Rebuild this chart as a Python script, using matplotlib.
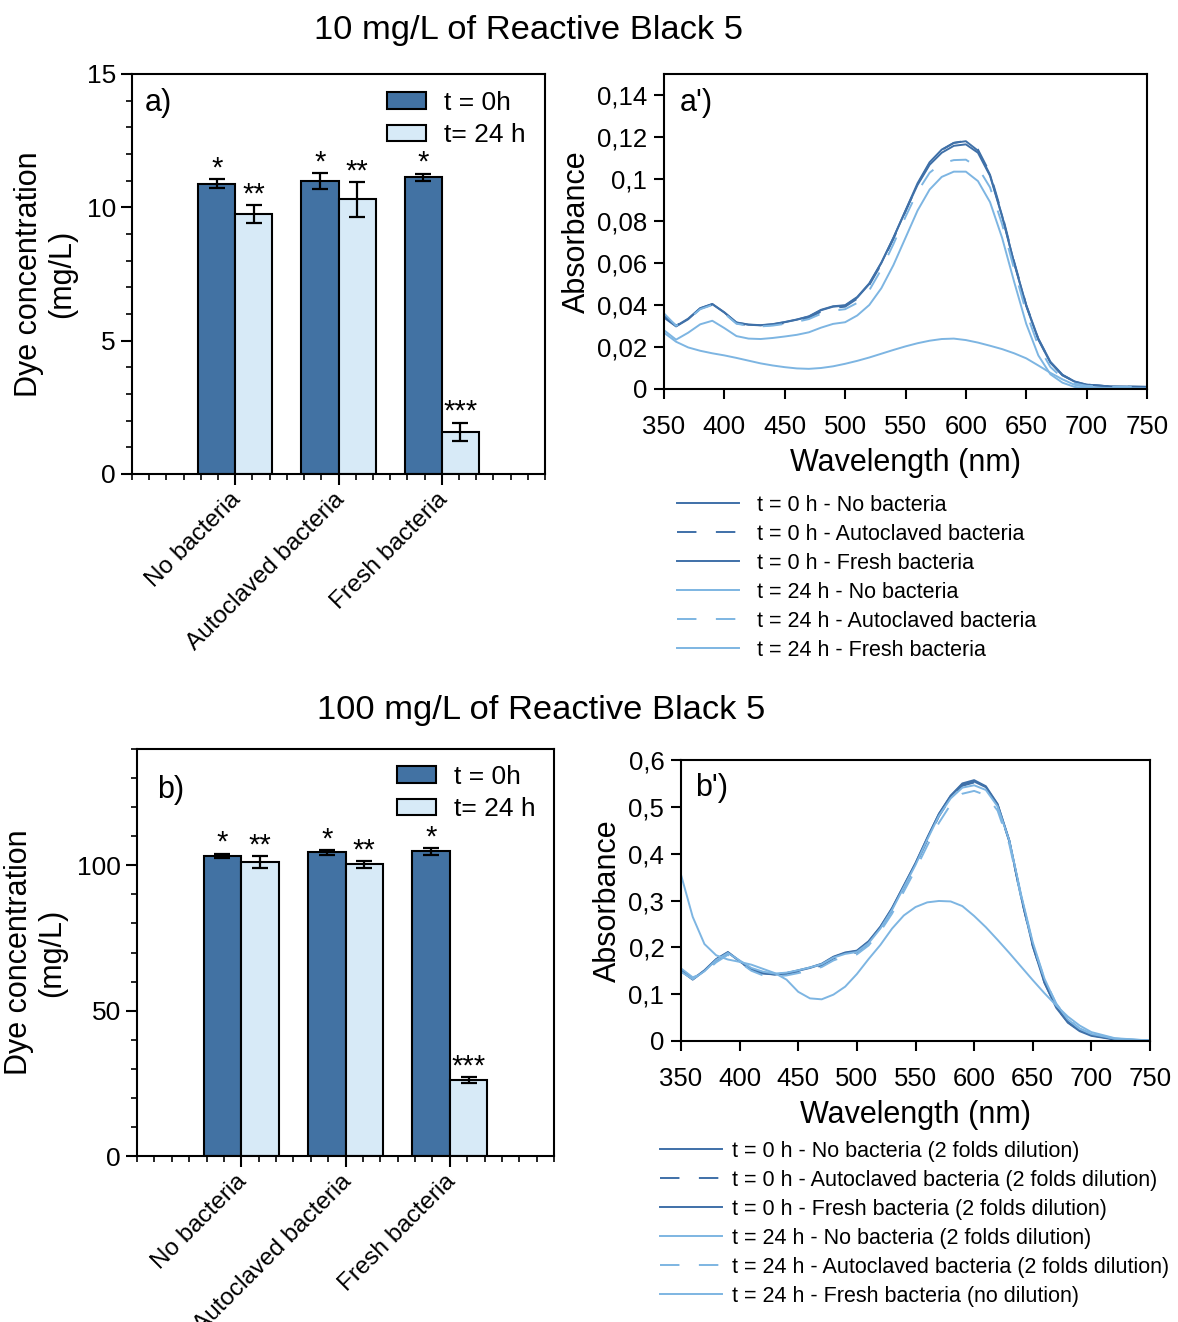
import matplotlib
matplotlib.use('Agg')
import numpy as np
import matplotlib.pyplot as plt
from matplotlib.ticker import MultipleLocator, FuncFormatter
from matplotlib.transforms import ScaledTranslation

plt.rcParams['font.family'] = ['Liberation Sans', 'DejaVu Sans']

# bar chart data (dye concentration, mg/L)
categories = ['No bacteria', 'Autoclaved bacteria', 'Fresh bacteria']
bar_labels = ['t = 0h', 't= 24 h']
c10_t0 = [10.89, 10.97, 11.13]
c10_t0_err = [0.16, 0.30, 0.13]
c10_t24 = [9.76, 10.30, 1.59]
c10_t24_err = [0.33, 0.65, 0.34]
c100_t0 = [103.3, 104.4, 104.8]
c100_t0_err = [0.75, 0.75, 1.15]
c100_t24 = [101.1, 100.3, 26.2]
c100_t24_err = [2.1, 1.1, 1.0]
stars_t0 = ['*', '*', '*']
stars_t24 = ['**', '**', '***']

# spectra (absorbance)
wl = [350, 360, 370, 380, 390, 400, 410, 420, 430, 440, 450, 460, 470, 480, 490,
      500, 510, 520, 530, 540, 550, 560, 570, 580, 590, 600, 610, 620, 630, 640,
      650, 660, 670, 680, 690, 700, 720, 750]

a_t0_none = [.0345, .0300, .0335, .0385, .0405, .0365, .0316, .0306, .0303, .0308, .0318, .0330, .0345, .0375, .0392,
             .0397, .0435, .0500, .0600, .0720, .0850, .0980, .1080, .1140, .1172, .1180, .1135, .1020, .0825, .0600,
             .0395, .0235, .0125, .0065, .0035, .0020, .0012, .0010]
a_t0_auto = [.0350, .0302, .0333, .0382, .0402, .0362, .0313, .0303, .0300, .0305, .0314, .0326, .0340, .0368, .0386,
             .0392, .0430, .0495, .0595, .0715, .0845, .0975, .1075, .1138, .1172, .1182, .1140, .1028, .0832, .0606,
             .0400, .0238, .0127, .0066, .0036, .0021, .0012, .0010]
a_t0_fresh = [.0340, .0298, .0332, .0384, .0404, .0364, .0317, .0307, .0304, .0309, .0319, .0331, .0346, .0377, .0394,
              .0399, .0438, .0503, .0602, .0720, .0848, .0972, .1068, .1125, .1158, .1165, .1125, .1015, .0822, .0600,
              .0398, .0240, .0130, .0068, .0036, .0021, .0012, .0010]
a_t24_none = [.0280, .0235, .0268, .0308, .0325, .0290, .0252, .0240, .0238, .0243, .0250, .0258, .0270, .0292, .0310,
              .0318, .0350, .0400, .0480, .0590, .0720, .0850, .0950, .1010, .1035, .1035, .0990, .0890, .0720, .0510,
              .0310, .0160, .0070, .0030, .0010, .0003, .0000, .0000]
a_t24_auto = [.0360, .0301, .0331, .0380, .0400, .0360, .0311, .0301, .0298, .0302, .0310, .0320, .0333, .0358, .0373,
              .0380, .0410, .0470, .0570, .0690, .0820, .0940, .1030, .1075, .1090, .1092, .1055, .0960, .0785, .0570,
              .0365, .0205, .0105, .0052, .0026, .0015, .0010, .0010]
a_t24_fresh = [.0268, .0225, .0198, .0182, .0170, .0160, .0148, .0135, .0122, .0112, .0104, .0098, .0096, .0100, .0108,
               .0120, .0134, .0150, .0168, .0186, .0203, .0218, .0230, .0238, .0240, .0233, .0221, .0206, .0190, .0170,
               .0146, .0112, .0077, .0046, .0020, .0009, .0004, .0003]

b_t0_none = [.150, .131, .150, .174, .189, .170, .153, .145, .142, .145, .150, .156, .164, .179, .188,
             .192, .212, .243, .283, .331, .379, .433, .485, .524, .550, .557, .544, .506, .428, .308,
             .203, .124, .071, .039, .021, .011, .003, .000]
b_t0_auto = [.152, .133, .148, .172, .187, .169, .152, .143, .141, .143, .148, .154, .161, .176, .185,
             .189, .209, .240, .279, .327, .375, .428, .480, .519, .545, .552, .540, .503, .426, .307,
             .203, .125, .072, .040, .022, .012, .004, .000]
b_t0_fresh = [.149, .132, .151, .175, .190, .171, .152, .144, .142, .145, .151, .157, .165, .180, .189,
              .193, .213, .244, .284, .332, .380, .434, .485, .523, .548, .554, .542, .505, .428, .310,
              .206, .127, .074, .041, .023, .013, .004, .001]
b_t24_none = [.148, .132, .149, .173, .188, .172, .156, .148, .144, .146, .151, .157, .164, .178, .186,
              .190, .209, .240, .280, .328, .376, .430, .481, .518, .541, .546, .536, .501, .428, .313,
              .211, .133, .079, .046, .026, .015, .005, .001]
b_t24_auto = [.155, .136, .146, .168, .184, .168, .150, .140, .138, .140, .145, .151, .158, .172, .181,
              .185, .204, .234, .272, .319, .366, .417, .466, .505, .528, .534, .525, .492, .420, .308,
              .208, .132, .080, .047, .027, .016, .005, .001]
b_t24_fresh = [.355, .265, .207, .183, .174, .169, .163, .154, .145, .131, .105, .091, .089, .099, .116,
               .143, .175, .205, .240, .268, .286, .296, .299, .298, .288, .267, .243, .216, .188, .159,
               .130, .102, .076, .052, .033, .019, .006, .001]

labels_a = ['t = 0 h - No bacteria', 't = 0 h - Autoclaved bacteria', 't = 0 h - Fresh bacteria',
            't = 24 h - No bacteria', 't = 24 h - Autoclaved bacteria', 't = 24 h - Fresh bacteria']
labels_b = ['t = 0 h - No bacteria (2 folds dilution)', 't = 0 h - Autoclaved bacteria (2 folds dilution)',
            't = 0 h - Fresh bacteria (2 folds dilution)', 't = 24 h - No bacteria (2 folds dilution)',
            't = 24 h - Autoclaved bacteria (2 folds dilution)', 't = 24 h - Fresh bacteria (no dilution)']

dark_bar = '#4272a3'
light_bar = '#d7eaf7'
dark_line = '#3f70a8'
light_line = '#7db5e2'
dash = (0, (10, 10))

W, H = 1178, 1322
fig = plt.figure(figsize=(W / 100, H / 100), dpi=100)


def box(l, t, r, b):
    # pixel box -> figure fraction
    return [l / W, 1 - b / H, (r - l) / W, (b - t) / H]


def bar_panel(ax, t0, t0e, t24, t24e, ymax, major, minor, tag, leg_xy, tag_xy):
    x = np.arange(1, 4)
    w = 0.36
    ekw = dict(elinewidth=1.6, capthick=1.6, ecolor='black')
    ax.bar(x - w / 2, t0, w, yerr=t0e, color=dark_bar, edgecolor='black', linewidth=1.5,
           capsize=6, error_kw=ekw, label=bar_labels[0])
    ax.bar(x + w / 2, t24, w, yerr=t24e, color=light_bar, edgecolor='black', linewidth=1.5,
           capsize=6, error_kw=ekw, label=bar_labels[1])
    for xs, vals, errs, st in [(x - w / 2, t0, t0e, stars_t0), (x + w / 2, t24, t24e, stars_t24)]:
        for xi, v, e, s in zip(xs, vals, errs, st):
            ax.annotate(s, (xi, v + e), xytext=(0, 2), textcoords='offset points',
                        ha='center', va='baseline', fontsize=21)
    ax.set_xlim(0, 4)
    ax.set_ylim(0, ymax)
    ax.xaxis.set_minor_locator(MultipleLocator(1 / 6))
    ax.yaxis.set_major_locator(MultipleLocator(major))
    ax.yaxis.set_minor_locator(MultipleLocator(minor))
    ax.tick_params(which='major', direction='out', length=8, width=1.5)
    ax.tick_params(which='minor', direction='out', length=4, width=1.2)
    ax.tick_params(axis='y', labelsize=19)
    ax.tick_params(axis='x', which='major', pad=8)
    ax.set_xticks(x)
    ax.set_xticklabels(categories, rotation=45, ha='right', va='center', rotation_mode='anchor', fontsize=17.5)
    shift = ScaledTranslation(0.025, 0, fig.dpi_scale_trans)
    for lab in ax.get_xticklabels():
        lab.set_transform(lab.get_transform() + shift)
    for sp in ax.spines.values():
        sp.set_linewidth(1.5)
    ax.set_ylabel('Dye concentration\n(mg/L)', fontsize=22, labelpad=7, linespacing=1.15)
    ax.text(tag_xy[0], tag_xy[1], tag, transform=ax.transAxes, fontsize=22, va='center')
    ax.legend(loc='upper left', bbox_to_anchor=leg_xy, frameon=False, fontsize=19,
              handlelength=1.5, handleheight=0.6, handletextpad=0.65, labelspacing=0.32,
              borderpad=0, borderaxespad=0)


def comma(v, pos):
    s = f'{v:.2f}'.rstrip('0').rstrip('.')
    return s.replace('.', ',')


def spec_panel(ax, series, labels, ymax, ystep, tag, tag_xy, leg_xy, tpad):
    styles = [(dark_line, '-'), (dark_line, dash), (dark_line, '-'),
              (light_line, '-'), (light_line, dash), (light_line, '-')]
    for ys, lab, (c, ls) in zip(series, labels, styles):
        ax.plot(wl, ys, color=c, linestyle=ls, linewidth=1.4, label=lab)
    ax.set_xlim(350, 750)
    ax.set_ylim(0, ymax)
    ax.set_xticks(np.arange(350, 751, 50))
    ax.set_yticks(np.arange(0, ymax + 1e-9, ystep))
    ax.yaxis.set_major_formatter(FuncFormatter(comma))
    ax.tick_params(direction='out', length=7, width=1.5, labelsize=18.5)
    ax.tick_params(axis='x', pad=12)
    ax.tick_params(axis='y', pad=5)
    for sp in ax.spines.values():
        sp.set_linewidth(1.5)
    ax.set_xlabel('Wavelength (nm)', fontsize=22, labelpad=6)
    ax.set_ylabel('Absorbance', fontsize=22, labelpad=4)
    ax.text(tag_xy[0], tag_xy[1], tag, transform=ax.transAxes, fontsize=22, va='center')
    ax.legend(loc='upper left', bbox_to_anchor=leg_xy, bbox_transform=fig.transFigure, frameon=False,
              fontsize=15.5, handlelength=2.9, handletextpad=tpad, labelspacing=0.37,
              borderpad=0, borderaxespad=0)


ax_a = fig.add_axes(box(132, 74, 545, 474))
bar_panel(ax_a, c10_t0, c10_t0_err, c10_t24, c10_t24_err, 15, 5, 1, 'a)', (0.617, 0.958), (0.031, 0.9275))

ax_a2 = fig.add_axes(box(664, 74, 1147, 389))
spec_panel(ax_a2, [a_t0_none, a_t0_auto, a_t0_fresh, a_t24_none, a_t24_auto, a_t24_fresh], labels_a,
           0.15, 0.02, "a')", (0.033, 0.908), (677 / W, 1 - 495 / H), 0.8)

ax_b = fig.add_axes(box(137, 749, 554, 1156))
bar_panel(ax_b, c100_t0, c100_t0_err, c100_t24, c100_t24_err, 140, 50, 10, 'b)', (0.623, 0.961), (0.048, 0.90))

ax_b2 = fig.add_axes(box(681, 760, 1150, 1041))
spec_panel(ax_b2, [b_t0_none, b_t0_auto, b_t0_fresh, b_t24_none, b_t24_auto, b_t24_fresh], labels_b,
           0.6, 0.1, "b')", (0.03, 0.90), (660 / W, 1 - 1141 / H), 0.45)

fig.text(529 / W, 1 - 31 / H, '10 mg/L of Reactive Black 5', fontsize=24.8, ha='center', va='center')
fig.text(541 / W, 1 - 711 / H, '100 mg/L of Reactive Black 5', fontsize=24.8, ha='center', va='center')

fig.savefig('out.png', dpi=100)
